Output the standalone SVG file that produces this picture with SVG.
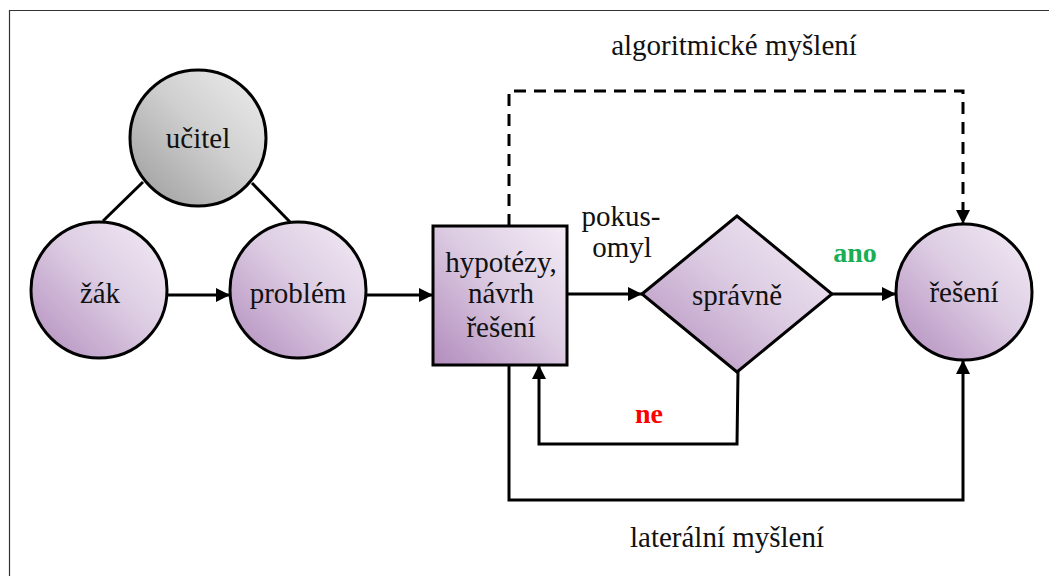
<svg xmlns="http://www.w3.org/2000/svg" width="1049" height="576" viewBox="0 0 1049 576">
<defs>
<linearGradient id="gp" x1="1" y1="0" x2="0" y2="1">
<stop offset="0" stop-color="#f3ecf5"/>
<stop offset="0.45" stop-color="#ddcde3"/>
<stop offset="1" stop-color="#b28cbd"/>
</linearGradient>
<linearGradient id="gg" x1="1" y1="0" x2="0" y2="1">
<stop offset="0" stop-color="#eeeeee"/>
<stop offset="0.45" stop-color="#d0d0d0"/>
<stop offset="1" stop-color="#9a9a9a"/>
</linearGradient>
<marker id="ahb" viewBox="0 0 14 14" refX="14" refY="7" markerWidth="14" markerHeight="14" markerUnits="userSpaceOnUse" orient="auto">
<path d="M0,0 L14,7 L0,14 z" fill="#000"/>
</marker>
</defs>
<style>
.n{stroke:#000;stroke-width:3}
.c{fill:none;stroke:#000;stroke-width:3}
.d{stroke-dasharray:12 8}
text{font-family:'Liberation Serif','Times New Roman',serif;font-size:29px;fill:#111;text-anchor:middle}
.b{font-weight:bold;font-size:28px}
</style>
<rect width="1049" height="576" fill="#fff"/>
<g id="frame" stroke="#333" stroke-width="1.2" fill="none">
<path d="M9.5,576 V10.5 H1049"/>
</g>
<g id="connectors">
<line class="c" x1="143" y1="182" x2="103" y2="221"/>
<line class="c" x1="252" y1="183" x2="291" y2="223"/>
<line class="c" x1="167" y1="295" x2="230" y2="295" marker-end="url(#ahb)"/>
<line class="c" x1="366" y1="295" x2="433" y2="295" marker-end="url(#ahb)"/>
<line class="c" x1="567" y1="294" x2="642" y2="294" marker-end="url(#ahb)"/>
<line class="c" x1="832" y1="294" x2="896" y2="294" marker-end="url(#ahb)"/>
<path class="c" d="M738,372 L737,444 H539 V365" marker-end="url(#ahb)"/>
<path class="c" d="M509,365 V500 H963 V360" marker-end="url(#ahb)"/>
<path class="c d" d="M509,226 V91 H963 V224" marker-end="url(#ahb)"/>
</g>
<g id="ucitel">
<circle class="n" cx="198" cy="138" r="68" fill="url(#gg)"/>
<text x="198" y="148">učitel</text>
</g>
<g id="zak">
<circle class="n" cx="99" cy="290" r="68" fill="url(#gp)"/>
<text x="100" y="303">žák</text>
</g>
<g id="problem">
<circle class="n" cx="298" cy="290" r="68" fill="url(#gp)"/>
<text x="298" y="303">problém</text>
</g>
<g id="hypotezy">
<rect class="n" x="433" y="226" width="134" height="139" fill="url(#gp)"/>
<text x="501" y="272">hypotézy,</text>
<text x="501" y="303">návrh</text>
<text x="501" y="337">řešení</text>
</g>
<g id="spravne">
<polygon class="n" points="642,294 737,216 832,294 737,372" fill="url(#gp)"/>
<text x="737" y="305">správně</text>
</g>
<g id="reseni">
<circle class="n" cx="964" cy="292" r="68" fill="url(#gp)"/>
<text x="964" y="302">řešení</text>
</g>
<g id="labels">
<text x="734" y="55">algoritmické myšlení</text>
<text x="621" y="226">pokus-</text>
<text x="622" y="257">omyl</text>
<text class="b" x="855" y="262" style="fill:#1aae55">ano</text>
<text class="b" x="649" y="423" style="fill:#ff0000">ne</text>
<text x="727" y="547">laterální myšlení</text>
</g>
</svg>
